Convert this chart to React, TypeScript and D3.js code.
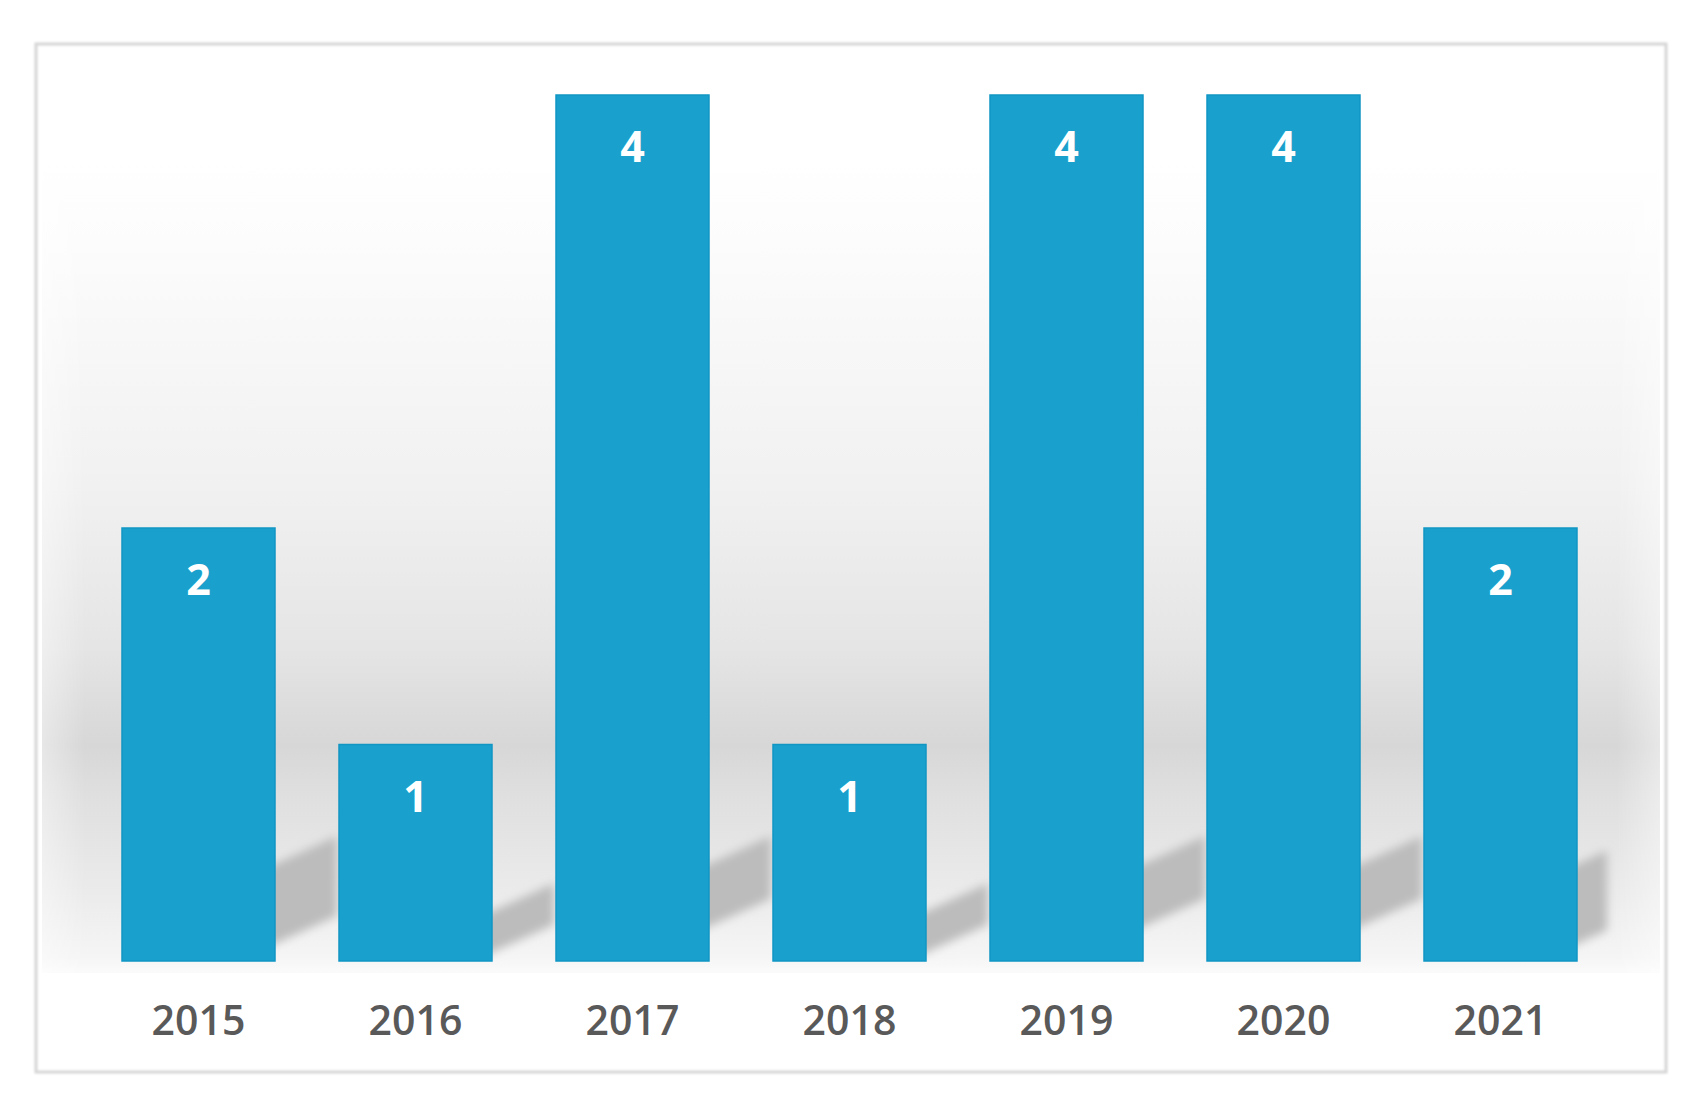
import React, { useEffect, useRef } from 'react';
import * as d3 from 'd3';

const years: string[] = ['2015', '2016', '2017', '2018', '2019', '2020', '2021'];
const counts: number[] = [2, 1, 4, 1, 4, 4, 2];

const WIDTH = 1698;
const HEIGHT = 1108;

const App = () => {
  const svgRef = useRef<SVGSVGElement | null>(null);

  useEffect(() => {
    document.body.style.margin = '0';
    const svg = d3.select(svgRef.current);
    svg.selectAll('*').remove();

    const frame = { left: 36, top: 44, right: 1666, bottom: 1072 };
    const baseY = 961;

    const x = d3.scaleBand<string>()
      .domain(years)
      .range([90, 1609])
      .paddingInner(0.295)
      .paddingOuter(0.1475);

    const y = d3.scaleLinear()
      .domain([0, 4])
      .range([baseY, 95]);

    const defs = svg.append('defs');

    // background wash of the plot area
    const bg = defs.append('linearGradient')
      .attr('id', 'bgGrad')
      .attr('x1', 0).attr('y1', 0).attr('x2', 0).attr('y2', 1);
    [
      [0, '#ffffff'],
      [0.1, '#fcfcfc'],
      [0.4, '#f1f1f1'],
      [0.6, '#e5e5e5'],
      [0.72, '#d7d7d7'],
      [0.78, '#dfdfdf'],
      [0.9, '#ebebeb'],
      [0.98, '#f5f5f5'],
      [1, '#fbfbfb'],
    ].forEach(([o, c]) => bg.append('stop').attr('offset', o as number).attr('stop-color', c as string));

    const edgeFade = defs.append('linearGradient')
      .attr('id', 'edgeFade')
      .attr('x1', 0).attr('y1', 0).attr('x2', 1).attr('y2', 0);
    [
      [0, 0.55], [0.03, 1], [0.97, 1], [1, 0.55],
    ].forEach(([o, a]) => edgeFade.append('stop').attr('offset', o).attr('stop-color', '#fff').attr('stop-opacity', a));
    const mask = defs.append('mask').attr('id', 'fadeMask');
    mask.append('rect')
      .attr('x', frame.left).attr('y', 0)
      .attr('width', frame.right - frame.left).attr('height', HEIGHT)
      .attr('fill', 'url(#edgeFade)');

    defs.append('filter')
      .attr('id', 'blur')
      .attr('x', '-20%').attr('y', '-20%').attr('width', '140%').attr('height', '140%')
      .append('feGaussianBlur')
      .attr('stdDeviation', 5);

    defs.append('clipPath')
      .attr('id', 'plotClip')
      .append('rect')
      .attr('x', frame.left + 4).attr('y', 120)
      .attr('width', frame.right - frame.left - 8).attr('height', baseY - 120);

    const frameShadow = defs.append('filter').attr('id', 'frameShadow');
    frameShadow.append('feGaussianBlur').attr('stdDeviation', 1.2);

    // chart frame
    svg.append('rect')
      .attr('width', WIDTH).attr('height', HEIGHT)
      .attr('fill', '#ffffff');

    svg.append('rect')
      .attr('x', frame.left).attr('y', frame.top)
      .attr('width', frame.right - frame.left).attr('height', frame.bottom - frame.top)
      .attr('fill', 'none')
      .attr('stroke', '#d6d6d6')
      .attr('stroke-width', 3)
      .attr('filter', 'url(#frameShadow)');

    // plot background
    svg.append('rect')
      .attr('x', frame.left + 6).attr('y', 160)
      .attr('width', frame.right - frame.left - 12).attr('height', baseY + 12 - 160)
      .attr('fill', 'url(#bgGrad)')
      .attr('mask', 'url(#fadeMask)');

    // perspective shadows behind bars
    const slope = 0.45;
    const shadows = svg.append('g')
      .attr('clip-path', 'url(#plotClip)')
      .append('g')
      .attr('filter', 'url(#blur)');

    shadows.selectAll('.shadow')
      .data(years.map((yr, i) => ({ yr, v: counts[i] })))
      .enter().append('path')
      .attr('class', 'shadow')
      .attr('fill', '#bcbcbc')
      .attr('d', d => {
        const L = (x(d.yr) as number) + 10;
        const R = (x(d.yr) as number) + x.bandwidth();
        const h = baseY - y(d.v);
        const up = Math.min(0.23 * h, 97);
        const low = 0.04 * h;
        const xr = d.yr === years[years.length - 1] ? R + 30 : R + 62;
        const yu = (px: number) => baseY - up - slope * (px - R);
        const yl = (px: number) => baseY - low - slope * (px - R);
        return `M${L},${yu(L)} L${xr},${yu(xr)} L${xr},${yl(xr)} L${L},${yl(L)} Z`;
      });

    // bars
    svg.selectAll('.bar')
      .data(years.map((yr, i) => ({ yr, v: counts[i] })))
      .enter().append('rect')
      .attr('class', 'bar')
      .attr('x', d => x(d.yr) as number)
      .attr('y', d => y(d.v))
      .attr('width', x.bandwidth())
      .attr('height', d => baseY - y(d.v))
      .attr('fill', '#19a0cc')
      .attr('stroke', '#1196c4')
      .attr('stroke-width', 1.5);

    // value labels
    svg.selectAll('.label')
      .data(years.map((yr, i) => ({ yr, v: counts[i] })))
      .enter().append('text')
      .attr('class', 'label')
      .attr('x', d => (x(d.yr) as number) + x.bandwidth() / 2)
      .attr('y', d => y(d.v) + 67)
      .attr('text-anchor', 'middle')
      .attr('fill', '#ffffff')
      .attr('font-family', '"Open Sans", "Liberation Sans", sans-serif')
      .attr('font-weight', 700)
      .attr('font-size', '43px')
      .text(d => d.v);

    // category axis labels
    svg.selectAll('.cat')
      .data(years)
      .enter().append('text')
      .attr('class', 'cat')
      .attr('x', d => (x(d) as number) + x.bandwidth() / 2)
      .attr('y', 1035)
      .attr('text-anchor', 'middle')
      .attr('fill', '#595959')
      .attr('font-family', '"Open Sans", "Liberation Sans", sans-serif')
      .attr('font-weight', 600)
      .attr('font-size', '41px')
      .text(d => d);
  }, []);

  return (
    <svg
      ref={svgRef}
      width={WIDTH}
      height={HEIGHT}
      style={{ display: 'block', position: 'absolute', left: 0, top: 0 }}
    />
  );
};

export default App;
